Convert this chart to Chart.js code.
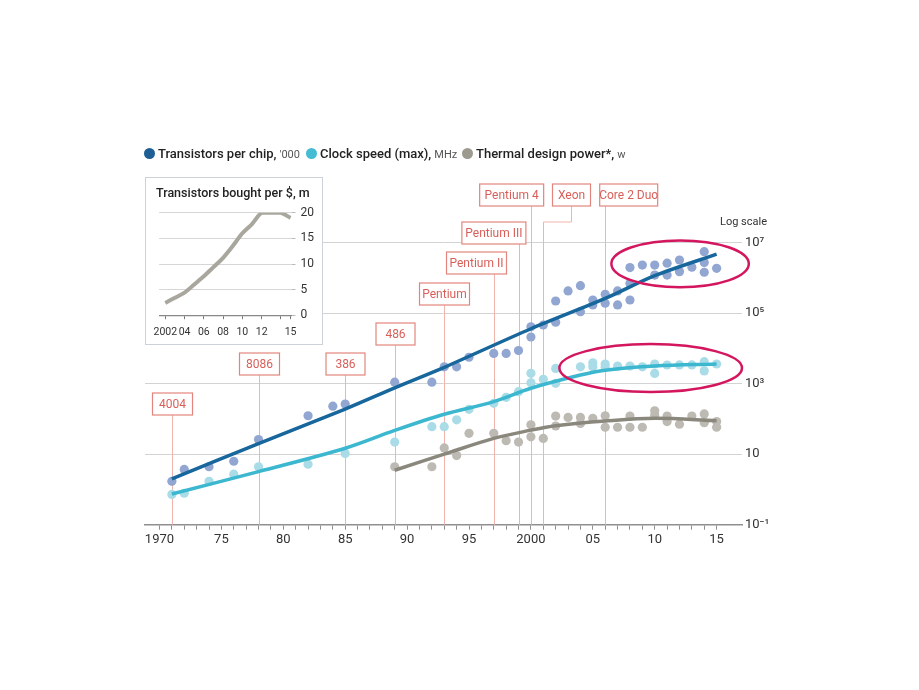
<!DOCTYPE html>
<html>
<head>
<meta charset="utf-8">
<script src="https://cdn.jsdelivr.net/npm/chart.js@4/dist/chart.umd.min.js"></script>
<style>
  body { margin: 0; background: #fff; font-family: Roboto, "Noto Sans", sans-serif; }
  #wrap { position: relative; width: 919px; height: 690px; overflow: hidden; }
  #main { position: absolute; left: 0; top: 0; }
  .item { position: absolute; top: 145px; height: 17px; line-height: 17px; white-space: nowrap;
          font-size: 13px; font-weight: 500; color: #222; }
  .dot { display: inline-block; width: 11px; height: 11px; border-radius: 50%; vertical-align: -1px; margin-right: 3px; }
  .unit { font-size: 11px; font-weight: 400; color: #555; margin-left: 3px; }
  #inset { position: absolute; left: 145px; top: 177px; width: 178px; height: 168px; box-sizing: border-box;
           border: 1.5px solid #cdd2da; background: #fff; }
  #insetCanvas { position: absolute; left: 0; top: 0; }
  #insetTitle { position: absolute; left: 10px; top: 7px; font-size: 12.5px; font-weight: 500; color: #222; white-space: nowrap; }
</style>
</head>
<body>
<div id="wrap">
  <canvas id="main" width="919" height="690"></canvas>
  <div class="item" style="left:144px"><span class="dot" style="background:#1d5f95"></span>Transistors per chip,<span class="unit">'000</span></div>
  <div class="item" style="left:306px"><span class="dot" style="background:#45bcd4"></span>Clock speed (max),<span class="unit">MHz</span></div>
  <div class="item" style="left:462px"><span class="dot" style="background:#9d9a90"></span>Thermal design power*,<span class="unit">w</span></div>
  <div id="inset">
    <canvas id="insetCanvas" width="175" height="165"></canvas>
    <div id="insetTitle">Transistors bought per $, m</div>
  </div>
</div>
<script>
// scatter points
const transYears = [1971,1972,1974,1976,1978,1982,1984,1985,1989,1992,1993,1994,1995,1997,1998,1999,2000,2000,2001,2002,2002,2003,2004,2004,2005,2005,2006,2006,2007,2007,2008,2008,2008,2009,2010,2010,2011,2011,2012,2012,2013,2014,2014,2014,2015];
const transVals = [1.7,3.7,4.4,6.3,26,123,229,263,1100,1100,3000,3000,5600,7200,7200,8700,41000,21000,46000,220000,55000,425000,600000,110000,235000,170000,340000,190000,425000,170000,1950000,690000,235000,2300000,2300000,1200000,2600000,1200000,3200000,1500000,2000000,5500000,2700000,1440000,1860000];

const clockYears = [1971,1972,1974,1976,1978,1982,1985,1989,1992,1993,1994,1995,1997,1998,1999,2000,2000,2001,2002,2002,2004,2005,2005,2006,2006,2007,2008,2009,2010,2010,2011,2012,2013,2014,2014,2015];
const clockVals = [0.72,0.78,1.7,2.7,4.4,5.2,10.5,22,60,60,94,187,277,410,590,1960,1060,1330,2700,1020,3000,3900,3000,3600,2900,3150,3150,3000,3600,1950,3380,3400,3400,4200,2300,3600];

const thermYears = [1989,1992,1993,1994,1995,1997,1998,1999,2000,2000,2001,2002,2002,2003,2004,2004,2005,2006,2006,2007,2008,2008,2009,2010,2010,2011,2011,2012,2013,2014,2014,2015,2015];
const thermVals = [4.4,4.4,15,9.1,39,39,24,22,68,31,28,120,63,110,110,74,104,123,58,58,120,58,58,170,130,120,84,71,120,138,78,84,58];

// trend lines
const transLineYears = [1971,1978,1985,1989,1993,2000,2006,2010,2015];
const transLineVals = [2.0,20,190,760,2900,36000,260000,1150000,4700000];
const clockLineYears = [1971,1978,1985,1989,1993,1997,2000,2004,2006,2010,2015];
const clockLineVals = [0.74,3.2,14.7,47,135,310,740,1750,2400,3150,3600];
const thermLineYears = [1989,1993,1997,2000,2002,2006,2010,2015];
const thermLineVals = [3.5,10,28,48,64,87,104,89];

// chips
const chipNames = ['4004','8086','386','486','Pentium','Pentium II','Pentium III','Pentium 4','Xeon','Core 2 Duo'];
const chipYears = [1971,1978,1985,1989,1993,1997,1999,2000,2001,2006];

// axis ticks
const xMajorYears = [1970,1975,1980,1985,1990,1995,2000,2005,2010,2015];
const xTickLabels = ['1970','75','80','85','90','95','2000','05','10','15'];
const yTickVals = [0.1,10,1000,100000,10000000];
const yTickLabels = ['10\u207B\u00B9','10','10\u00B3','10\u2075','10\u2077'];

// inset
const insetYears = [2002,2003,2004,2005,2006,2007,2008,2009,2010,2011,2012,2013,2014,2015];
const insetVals = [2.4,3.4,4.4,6.0,7.6,9.4,11.2,13.5,16.0,17.8,20,20,20,19];
const insetTickYears = [2002,2004,2006,2008,2010,2012,2014,2015];
const insetTickLabels = ['2002','04','06','08','10','12','','15'];

// ringed clusters (year span, value span)
const ringFrom = [2006.5,2002.3];
const ringTo = [2017.6,2017.05];
const ringLow = [540000,575];
const ringHigh = [11500000,13200];

// label box layout
const boxTop = [393,353,353,323,283,252,222,184,184,184];
const boxWidth = [40,40,39,39,50,60,64,64,38,58];
const boxAnchor = [0.5,0.5,0.5,0.5,0.5,0.8,0.9,0.81,0.5,0.1];
const boxShift = [0,0,0,0,0,0,0,0,28,0];
const elbowY = 222;

const pts = (xs, ys) => xs.map((x, i) => ({x: x, y: ys[i]}));

const chipPlugin = {
  id: 'chips',
  beforeDatasetsDraw(chart) {
    const ctx = chart.ctx, x = chart.scales.x, area = chart.chartArea;
    ctx.save();
    chipYears.forEach((yr, i) => {
      const px = Math.round(x.getPixelForValue(yr)) + 0.5;
      const w = boxWidth[i], h = 22, top = boxTop[i];
      const bx = px + boxShift[i];
      const left = bx - w * boxAnchor[i];
      ctx.strokeStyle = '#f0b4ac';
      ctx.lineWidth = 1;
      ctx.beginPath();
      if (boxShift[i]) {
        ctx.moveTo(bx, top + h);
        ctx.lineTo(bx, elbowY);
        ctx.lineTo(px, elbowY);
        ctx.lineTo(px, area.bottom);
      } else {
        ctx.moveTo(px, top + h);
        ctx.lineTo(px, area.bottom);
      }
      ctx.stroke();
      ctx.fillStyle = '#fff';
      ctx.fillRect(left, top, w, h);
      ctx.strokeStyle = '#e3857e';
      ctx.lineWidth = 1.2;
      ctx.strokeRect(left, top, w, h);
      ctx.fillStyle = '#d85f59';
      ctx.font = '12px Roboto';
      ctx.textAlign = 'center';
      ctx.textBaseline = 'middle';
      ctx.fillText(chipNames[i], left + w / 2, top + h / 2 + 0.5);
    });
    ctx.restore();
  },
  afterDatasetsDraw(chart) {
    const ctx = chart.ctx, x = chart.scales.x, y = chart.scales.y, area = chart.chartArea;
    ctx.save();
    ctx.strokeStyle = '#d3165e';
    ctx.lineWidth = 2.5;
    ringFrom.forEach((f, i) => {
      const x0 = x.getPixelForValue(f), x1 = x.getPixelForValue(ringTo[i]);
      const y0 = y.getPixelForValue(ringHigh[i]), y1 = y.getPixelForValue(ringLow[i]);
      ctx.beginPath();
      ctx.ellipse((x0 + x1) / 2, (y0 + y1) / 2, (x1 - x0) / 2, (y1 - y0) / 2, 0, 0, Math.PI * 2);
      ctx.stroke();
    });
    ctx.fillStyle = '#333';
    ctx.font = '11px Roboto';
    ctx.textAlign = 'left';
    ctx.textBaseline = 'middle';
    ctx.fillText('Log scale', area.right - 22, 222);
    ctx.restore();
  }
};

new Chart(document.getElementById('main'), {
  type: 'scatter',
  data: {
    datasets: [
      { data: pts(transLineYears, transLineVals), showLine: true, borderColor: '#17679d', borderWidth: 3.5, pointRadius: 0, tension: 0.3, order: 0 },
      { data: pts(clockLineYears, clockLineVals), showLine: true, borderColor: '#3cb7d0', borderWidth: 3.5, pointRadius: 0, tension: 0.35, order: 0 },
      { data: pts(thermLineYears, thermLineVals), showLine: true, borderColor: '#8a887d', borderWidth: 3.5, pointRadius: 0, tension: 0.35, order: 0 },
      { data: pts(transYears, transVals), backgroundColor: '#92a6d2', borderWidth: 0, pointRadius: 4.6, order: 1 },
      { data: pts(clockYears, clockVals), backgroundColor: '#a9dce7', borderWidth: 0, pointRadius: 4.6, order: 1 },
      { data: pts(thermYears, thermVals), backgroundColor: '#bdbab3', borderWidth: 0, pointRadius: 4.6, order: 1 }
    ]
  },
  options: {
    responsive: false,
    animation: false,
    layout: { padding: { top: 207.3, left: 145, right: 0, bottom: 0 } },
    plugins: { legend: { display: false }, tooltip: { enabled: false } },
    scales: {
      x: {
        type: 'linear', min: 1968.83, max: 2017.05,
        afterBuildTicks: s => {
          const t = [];
          for (let v = 1970; v <= 2015; v++) t.push({ value: v });
          s.ticks = t;
        },
        afterFit: s => { s.height = 165.3; },
        grid: { drawOnChartArea: false, drawTicks: true, tickLength: 5, tickColor: '#8f8f8f', tickWidth: 1 },
        border: { color: '#8f8f8f', width: 1.5 },
        ticks: {
          autoSkip: false, maxRotation: 0, padding: 2.5, color: '#333',
          font: { family: 'Roboto', size: 13 },
          callback: v => { const k = xMajorYears.indexOf(v); return k < 0 ? '' : xTickLabels[k]; }
        }
      },
      y: {
        type: 'logarithmic', position: 'right', min: 0.1, max: 100000000,
        afterBuildTicks: s => { s.ticks = yTickVals.map(v => ({ value: v })); },
        afterFit: s => { s.width = 177; },
        grid: { color: c => (c.tick && c.tick.value === 0.1) ? 'rgba(0,0,0,0)' : '#d3d3d3', drawTicks: false, lineWidth: 1 },
        border: { display: false },
        ticks: {
          padding: 3, color: '#333', font: { family: 'Roboto', size: 13 },
          callback: (v, i) => yTickLabels[i]
        }
      }
    }
  },
  plugins: [chipPlugin]
});

new Chart(document.getElementById('insetCanvas'), {
  type: 'line',
  data: {
    datasets: [{ data: pts(insetYears, insetVals), borderColor: '#a8a69d', borderWidth: 4, pointRadius: 0, tension: 0.3 }]
  },
  options: {
    responsive: false,
    animation: false,
    layout: { padding: { top: 34.8, left: 10.2, right: 0, bottom: 0 } },
    plugins: { legend: { display: false }, tooltip: { enabled: false } },
    scales: {
      x: {
        type: 'linear', min: 2001.36, max: 2015.1,
        afterBuildTicks: s => { s.ticks = insetTickYears.map(v => ({ value: v })); },
        afterFit: s => { s.height = 27.8; },
        grid: { drawOnChartArea: false, drawTicks: true, tickLength: 4, tickColor: '#777' },
        border: { color: '#888', width: 1.2 },
        ticks: {
          autoSkip: false, maxRotation: 0, padding: 7, color: '#333',
          font: { family: 'Roboto', size: 10.5 },
          callback: (v, i) => insetTickLabels[i]
        }
      },
      y: {
        position: 'right', min: 0, max: 20,
        afterFit: s => { s.width = 29.5; },
        grid: { color: c => (c.tick && c.tick.value === 0) ? 'rgba(0,0,0,0)' : '#d6d6d6', drawTicks: true, tickLength: 4, tickColor: '#bbb' },
        border: { display: false },
        ticks: { stepSize: 5, padding: 5, color: '#333', font: { family: 'Roboto', size: 12 } }
      }
    }
  }
});
</script>
</body>
</html>
